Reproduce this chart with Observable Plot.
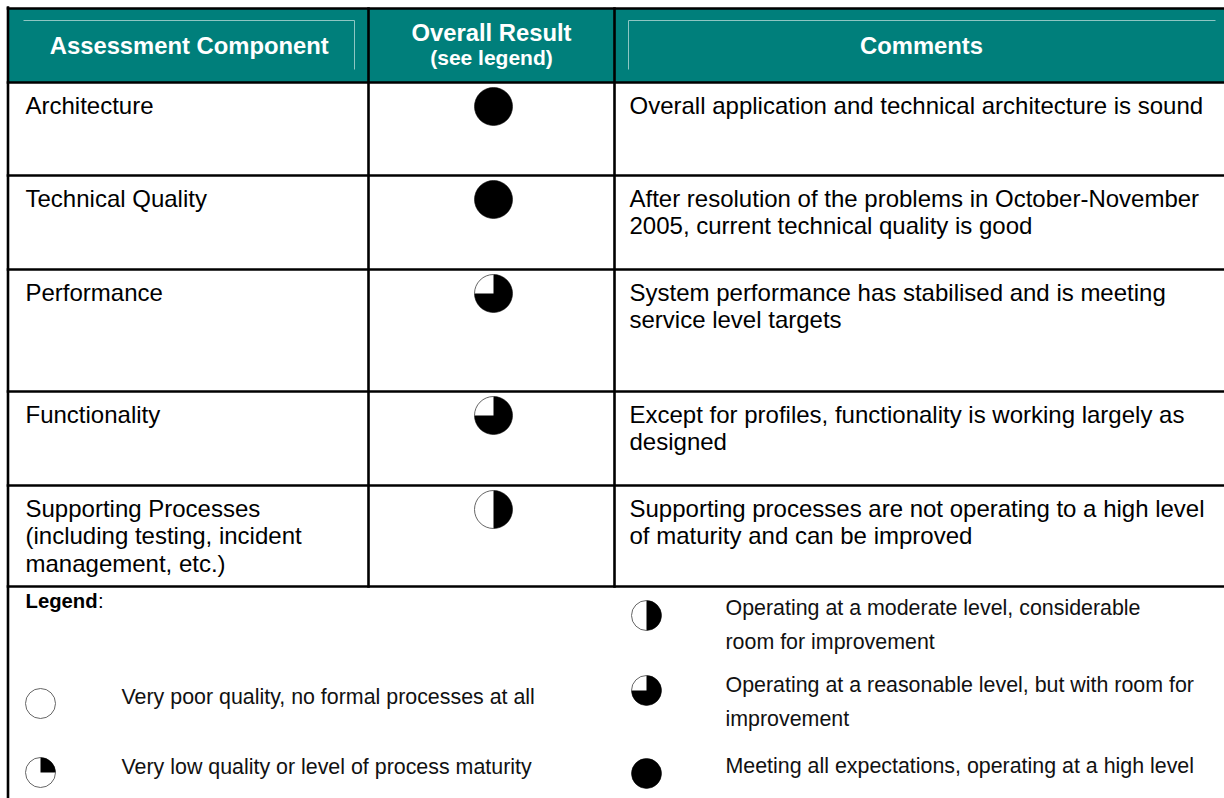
<!DOCTYPE html>
<html>
<head>
<meta charset="utf-8">
<script src="https://cdn.jsdelivr.net/npm/d3@7"></script>
<script src="https://cdn.jsdelivr.net/npm/@observablehq/plot@0.6"></script>
<style>
  html, body { margin: 0; padding: 0; background: #fff; overflow: hidden; }
</style>
</head>
<body>
<div id="chart"></div>
<script>
// ---------- DATA ----------
const headerLabels = ["Assessment Component", "Overall Result", "(see legend)", "Comments"];
const components = [
  "Architecture",
  "Technical Quality",
  "Performance",
  "Functionality",
  "Supporting Processes\n(including testing, incident\nmanagement, etc.)"
];
const results = [1, 1, 0.75, 0.75, 0.5];
const comments = [
  "Overall application and technical architecture is sound",
  "After resolution of the problems in October-November\n2005, current technical quality is good",
  "System performance has stabilised and is meeting\nservice level targets",
  "Except for profiles, functionality is working largely as\ndesigned",
  "Supporting processes are not operating to a high level\nof maturity and can be improved"
];
const legendTitle = "Legend";
const legendLevels = [0, 0.25, 0.5, 0.75, 1];
const legendLabels = [
  "Very poor quality, no formal processes at all",
  "Very low quality or level of process maturity",
  "Operating at a moderate level, considerable\nroom for improvement",
  "Operating at a reasonable level, but with room for\nimprovement",
  "Meeting all expectations, operating at a high level"
];

// ---------- LAYOUT ----------
const W = 1224, H = 798;
const colEdges = [7.5, 368, 614, 1224];
const rowEdges = [8, 82, 175, 269, 391, 485, 586];
const teal = "#007f7b";
const frameLight = "#8ec6c3";
const font = "'Liberation Sans', Arial, Helvetica, sans-serif";
const bodySize = 24, legendSize = 21.4;
const bodyLH = 27.5, legendLH = 34;

// legend slots (column/row placement of the five legend items)
const legendSlots = [
  {ballX: 40, ballY: 703, textX: 121, base: 703},
  {ballX: 40, ballY: 772, textX: 121, base: 773},
  {ballX: 646, ballY: 615, textX: 725, base: 614},
  {ballX: 646, ballY: 690, textX: 725, base: 691},
  {ballX: 646, ballY: 773, textX: 725, base: 772}
];

// ---------- DERIVED RECORDS ----------
const colCenter = i => (colEdges[i] + colEdges[i + 1]) / 2;

const headerTexts = [
  {x: colCenter(0) + 1, y: 53, text: headerLabels[0], size: 23.8},
  {x: colCenter(1), y: 40, text: headerLabels[1], size: 23.8},
  {x: colCenter(1), y: 64, text: headerLabels[2], size: 21},
  {x: colCenter(2) + 2, y: 53, text: headerLabels[3], size: 23.8}
];

const bodyLines = [];
components.forEach((c, i) => {
  c.split("\n").forEach((t, j) => bodyLines.push({x: 25, y: rowEdges[i + 1] + 31 + j * bodyLH, text: t}));
});
comments.forEach((c, i) => {
  c.split("\n").forEach((t, j) => bodyLines.push({x: 629, y: rowEdges[i + 1] + 31 + j * bodyLH, text: t}));
});

const legendLines = [];
legendLabels.forEach((c, i) => {
  c.split("\n").forEach((t, j) => legendLines.push({x: legendSlots[i].textX, y: legendSlots[i].base + j * legendLH, text: t}));
});

const balls = [
  ...results.map((v, i) => ({x: 493, y: rowEdges[i + 1] + 24, v, r: 19})),
  ...legendLevels.map((v, i) => ({x: legendSlots[i].ballX, y: legendSlots[i].ballY, v, r: 15}))
];

// grid segments
const segs = [];
segs.push({x1: colEdges[0], y1: rowEdges[0], x2: W, y2: rowEdges[0]});
for (let k = 1; k < rowEdges.length; k++) segs.push({x1: colEdges[0], y1: rowEdges[k], x2: W, y2: rowEdges[k]});
segs.push({x1: colEdges[0], y1: rowEdges[0] - 1, x2: colEdges[0], y2: H});
segs.push({x1: colEdges[1], y1: rowEdges[0], x2: colEdges[1], y2: rowEdges[rowEdges.length - 1]});
segs.push({x1: colEdges[2], y1: rowEdges[0], x2: colEdges[2], y2: rowEdges[rowEdges.length - 1]});

// light inset frame lines in header
const insets = [
  {x1: 23, y1: 20, x2: 354, y2: 20},
  {x1: 354, y1: 20, x2: 354, y2: 69},
  {x1: 628, y1: 20, x2: 1215, y2: 20},
  {x1: 628, y1: 20, x2: 628, y2: 69}
];

// Harvey ball sector symbol
function sector(f) {
  return {
    draw(context, size) {
      const r = Math.sqrt(size / Math.PI);
      if (f >= 1) {
        context.moveTo(r, 0);
        context.arc(0, 0, r, 0, 2 * Math.PI);
        context.closePath();
        return;
      }
      context.moveTo(0, 0);
      context.lineTo(0, -r);
      context.arc(0, 0, r, -Math.PI / 2, -Math.PI / 2 + 2 * Math.PI * f);
      context.closePath();
    }
  };
}
const sectorMarks = [0.25, 0.5, 0.75, 1].map(f =>
  Plot.dot(balls.filter(d => d.v === f), {x: "x", y: "y", r: "r", symbol: sector(f), fill: "black", stroke: "none"})
);

const chart = Plot.plot({
  width: W,
  height: H,
  margin: 0,
  x: {domain: [0, W], range: [0, W], axis: null},
  y: {domain: [0, H], range: [0, H], axis: null},
  r: {type: "identity"},
  style: {fontFamily: font, background: "white"},
  marks: [
    Plot.rect([0], {x1: colEdges[0], x2: W, y1: rowEdges[0], y2: rowEdges[1], fill: teal}),
    Plot.link(insets, {x1: "x1", y1: "y1", x2: "x2", y2: "y2", stroke: frameLight, strokeWidth: 1}),
    Plot.link(segs, {x1: "x1", y1: "y1", x2: "x2", y2: "y2", stroke: "black", strokeWidth: 2.6, strokeLinecap: "square"}),
    Plot.text(headerTexts, {x: "x", y: "y", text: "text", fontSize: "size", fontWeight: "bold", fill: "white", textAnchor: "middle", lineAnchor: "bottom"}),
    Plot.text(bodyLines, {x: "x", y: "y", text: "text", fontSize: bodySize, fill: "black", textAnchor: "start", lineAnchor: "bottom"}),
    Plot.text([legendTitle], {x: 25, y: 607, text: d => d, fontSize: 20.3, fontWeight: "bold", fill: "black", textAnchor: "start", lineAnchor: "bottom"}),
    Plot.text([":"], {x: 97.5, y: 607, text: d => d, fontSize: 20.3, fill: "black", textAnchor: "start", lineAnchor: "bottom"}),
    Plot.text(legendLines, {x: "x", y: "y", text: "text", fontSize: legendSize, fill: "#111", textAnchor: "start", lineAnchor: "bottom"}),
    Plot.dot(balls, {x: "x", y: "y", r: "r", fill: "white", stroke: "#555", strokeWidth: 0.9}),
    ...sectorMarks
  ]
});
document.getElementById("chart").appendChild(chart);
</script>
</body>
</html>
